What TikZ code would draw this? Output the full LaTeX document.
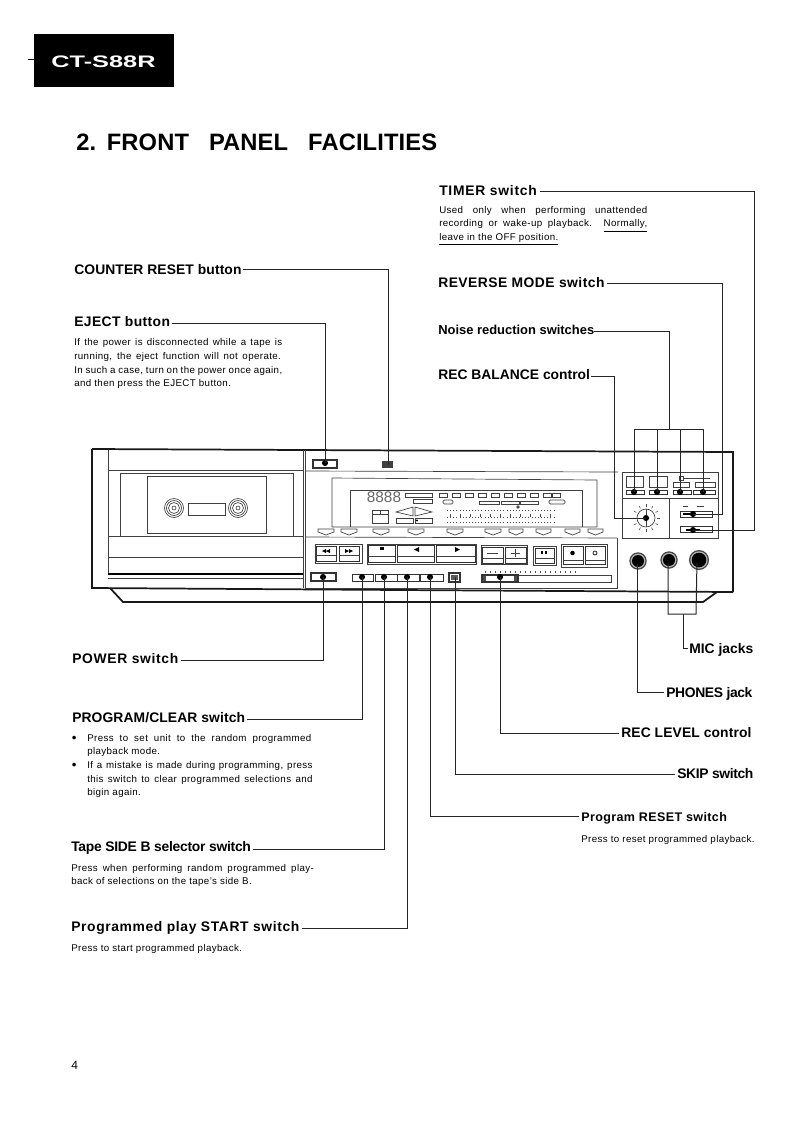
\documentclass[tikz,border=0pt]{standalone}
\usepackage{fontspec}
\setmainfont{Liberation Sans}
\newcommand{\jl}[2]{\makebox[#1pt][s]{#2}}
\newcommand{\bl}{\makebox[0pt][r]{\makebox[11.5pt][l]{\raisebox{-0.6pt}{\fontsize{10}{10}\selectfont\textbullet}}}}
\begin{document}
\begin{tikzpicture}[x=0.75pt,y=-0.75pt,
  head/.style={anchor=base west,inner sep=0pt,font=\fontsize{10.4}{12}\selectfont\bfseries\addfontfeatures{LetterSpace=#1}},
  head/.default=0,
  body/.style={anchor=north west,inner sep=0pt,font=\fontsize{7.3}{#1}\selectfont\addfontfeatures{LetterSpace=4},align=left},
  body/.default=10.2,
  lead/.style={line width=0.75pt,black!85},
  pnl/.style={line width=0.5pt,black!75},
  pnlk/.style={line width=1.3pt,black!90},
  dot/.style={circle,fill=black,inner sep=0pt,minimum size=4.6pt},
  btn/.style={draw=black!80,line width=0.5pt}]
\useasboundingbox (0,0) rectangle (793,1122);
\fill[white] (0,0) rectangle (793,1122);
% header
\fill[black] (34,34) rectangle (174,87);
\draw[line width=0.4pt] (28,59) -- (34,59);
\node[inner sep=0pt,text=white,font=\fontsize{12.5}{14}\selectfont\bfseries,anchor=base west,xscale=1.52] (model) at (51,67) {CT-S88R};
\node[inner sep=0pt,anchor=base west,font=\fontsize{17.8}{20}\selectfont\bfseries\addfontfeatures{LetterSpace=0.5}] (title) at (76,150) {2.\hspace{8pt}FRONT\hspace{15pt}PANEL\hspace{15pt}FACILITIES};
\node[inner sep=0pt,anchor=base west,font=\fontsize{9}{10}\selectfont] (pg) at (71,1069) {4};

% labels
\node[head=5.4] (timer) at (439,195) {TIMER switch};
\node[body] (timerb) at (439,206) {\jl{156}{Used only when performing unattended}\\\jl{156}{recording or wake-up playback. \underline{Normally,}}\\\underline{leave in the OFF position.}};
\node[head=3.4] (rev) at (438,287) {REVERSE MODE switch};
\node[head,font=\fontsize{9.7}{12}\selectfont\bfseries] (nr) at (438,334) {Noise reduction switches};
\node[head] (bal) at (438,379) {REC BALANCE control};
\node[head=0.7] (cnt) at (74,274) {COUNTER RESET button};
\node[head=3] (ej) at (74,326) {EJECT button};
\node[body] (ejb) at (74,338.500) {\jl{156}{If the power is disconnected while a tape is}\\\jl{155}{running, the eject function will not operate.}\\\jl{156}{In such a case, turn on the power once again,}\\and then press the EJECT button.};
\node[head=4.8] (pw) at (72,663) {POWER switch};
\node[head=0.7] (prog) at (72,722) {PROGRAM/CLEAR switch};
\node[body,anchor=north west] (progb) at (87,734) {\bl\jl{168}{Press to set unit to the random programmed}\\playback mode.\\\bl\jl{169}{If a mistake is made during programming, press}\\\jl{169}{this switch to clear programmed selections and}\\bigin again.};
\node[head=-1.9] (side) at (71,851) {Tape SIDE B selector switch};
\node[body=9.8] (sideb) at (71,864.500) {\jl{182}{Press when performing random programmed play-}\\back of selections on the tape's side B.};
\node[head=4.5] (start) at (71,931) {Programmed play START switch};
\node[body] (startb) at (71,944.500) {Press to start programmed playback.};
\node[head] (mic) at (689,653) {MIC jacks};
\node[head=-2.6] (ph) at (666,697) {PHONES jack};
\node[head=0.8] (lev) at (621,737) {REC LEVEL control};
\node[head=-2.6] (skip) at (677,778) {SKIP switch};
\node[head,font=\fontsize{9.4}{12}\selectfont\bfseries\addfontfeatures{LetterSpace=3}] (rst) at (581,821) {Program RESET switch};
\node[body] (rstb) at (581,835.500) {Press to reset programmed playback.};

% cabinet
\draw[pnlk] (92,449) -- (92,588) -- (400,590) -- (733,592);
\draw[pnlk] (92,449) -- (304,450) -- (733,452) -- (733,592);
\draw[pnl] (108,450) -- (108,575);
\draw[pnl] (108,470) -- (304,470);
\draw[pnl] (120,473) rectangle (293,536);
\fill[white] (147,476) rectangle (266,533);
\draw[pnl,line width=0.7pt] (147,476) rectangle (266,533);
\foreach \cx in {174,238}{
  \foreach \r in {9.5,7.5,5.5,2}{\draw[line width=0.45pt,black!80] (\cx,508) circle (\r);}
}
\draw[pnl] (188,503) rectangle (225,515);
\draw[pnl] (108,536) -- (304,536);
\draw[pnl] (108,557) -- (304,557);
\draw[line width=0.8pt] (108,574) -- (303,574);
\draw[pnl] (108,578) -- (303,578);
\draw[pnl] (303,450) -- (303,588);
\draw[pnl] (305,450) -- (305,589);
% base
\draw[pnlk] (110,588) -- (123,602) -- (703,602) -- (717,592);
\draw[pnl] (306,471) -- (618,472);
\draw[pnl] (306,537) -- (617,538);
\draw[pnl] (306,588) -- (617,588);
\draw[pnl] (617,538) -- (617,589);
% display
\draw[pnl] (332,478) -- (597,480) -- (597,527) -- (332,527) -- cycle;
\draw[pnl] (350,527) -- (350,490) -- (582,490) -- (582,527);
\node[inner sep=0pt,font=\fontsize{11.5}{12}\selectfont,text=black!60] (digits) at (384,497) {8888};
\draw[pnl] (405,493) rectangle (432,497);
\draw[pnl] (413,499) rectangle (432,503);
\draw[pnl] (372,510) rectangle (388,523);
\draw[pnl] (372,514) -- (388,514);
\draw[pnl] (380,510) -- (380,514);
\draw[pnl] (396,512) -- (413,507) -- (413,516) -- cycle;
\draw[pnl] (415,507) -- (415,516) -- (432,512) -- cycle;
\draw[pnl] (396,518) rectangle (413,523);
\draw[pnl] (415,518) rectangle (432,523);
\fill (417,520.500) circle (1.200);
\foreach \x in {439,452,465,478,491,504,517,530,543,552}{\draw[pnl] (\x,493) rectangle ++(8,4);}
\draw[pnl,rounded corners=1pt] (443,500) rectangle (453,504);
\draw[pnl] (479,501) rectangle (499,504);
\draw[pnl] (501,501) rectangle (519,504);
\draw[pnl] (520,501) rectangle (538,504);
\draw[pnl,rounded corners=1pt] (549,500) rectangle (565,504);
\fill[black!70] (518,507) circle (1.800);
\foreach \yy in {510,517,522.500}{\draw[line width=0.35pt,dotted,black!70] (447,\yy) -- (556,\yy);}
\foreach \x in {450,460,...,555}{\draw[line width=0.35pt,black!70] (\x,514) -- (\x,517);}
% soft keys
\foreach \x/\w in {318/16,341/16,373/16,408/16,447/16,485/16,509/14,536/15,565/15,588/15}{
  \draw[pnl] (\x,529) -- ++(\w,0) -- ++(0,3) -- ++(-\w/2,3) -- ++(-\w/2,-3) -- cycle;}
% keys
\draw[pnl] (315,544) rectangle (362,563);
\draw[btn] (316,546) rectangle (336,561);\draw[pnl] (316,555) -- (336,555);
\draw[btn] (339,546) rectangle (359,561);\draw[pnl] (339,555) -- (359,555);
\fill (322,551) -- (326,549) -- (326,551) -- (330,549) -- (330,553) -- (326,551) -- (326,553) -- cycle;
\fill (353,551) -- (349,549) -- (349,551) -- (345,549) -- (345,553) -- (349,551) -- (349,553) -- cycle;
\draw[pnl] (367,544) rectangle (476,564);
\draw[btn] (368,545) rectangle (395,562);\draw[pnl] (368,556) -- (395,556);
\fill (380,547) rectangle (384,550);
\draw[btn] (397,545) rectangle (434,562);\draw[pnl] (397,556) -- (434,556);
\fill (414,549.500) -- (419,547) -- (419,552) -- cycle;
\draw[btn] (436,545) rectangle (475,562);\draw[pnl] (436,556) -- (475,556);
\fill (455,547) -- (460,549.500) -- (455,552) -- cycle;
\draw[pnl] (481,545) rectangle (527,564);
\draw[btn] (482,547) rectangle (503,563);\draw[pnl] (482,558) -- (503,558);
\draw[btn] (505,547) rectangle (526,563);\draw[pnl] (505,558) -- (526,558);
\draw[pnl] (487,553) -- (498,553);
\draw[pnl] (511,553) -- (520,553) (515.500,549) -- (515.500,557);
\draw[pnl] (533,546) rectangle (556,565);
\draw[btn] (535,548) rectangle (554,563);\draw[pnl] (535,558) -- (554,558);
\fill (541,551) rectangle (543,554);\fill (545,551) rectangle (547,554);
\draw[pnl] (561,544) rectangle (607,567);
\draw[btn] (563,546) rectangle (583,564);\draw[pnl] (563,560) -- (583,560);
\draw[btn] (585,546) rectangle (605,564);\draw[pnl] (585,560) -- (605,560);
\fill (572.500,553) circle (2.300);
\draw[line width=0.5pt] (595,553) circle (2);
% lower switches
\draw[btn,line width=0.9pt] (311,573) rectangle (336,581);
\foreach \x/\w in {352/21,375/22,397/22,420/23}{\draw[btn,line width=0.7pt] (\x,574) rectangle ++(\w,7);}
\draw[btn,line width=1pt] (449,573) rectangle (460,582);
\fill[black!65] (451,575) rectangle (458,580);
\draw[pnl] (482,575) rectangle (611,582);
\draw[btn,line width=0.9pt] (482,575) rectangle (518,582);
\fill[black!70] (483,576) rectangle (486,581);\fill[black!70] (514,576) rectangle (517,581);
\foreach \x in {485,490,...,577}{\draw[line width=0.3pt,black!70] (\x,571) -- (\x,573);}
% top left switches
\draw[btn,line width=0.9pt] (313,460) rectangle (337,468);
\fill[black!75] (382,461) rectangle (393,468);
% right panel
\draw[pnl] (622,472) rectangle (718,538);
\draw[pnl] (622,498) -- (718,498);
\draw[pnl] (669,498) -- (669,538);
\draw[pnl] (626,476) rectangle (643,487);
\draw[pnl] (649,476) rectangle (667,487);
\draw[pnl] (673,482) rectangle (689,487);
\draw[pnl] (695,482) rectangle (715,487);
\draw[pnl] (679,476) rectangle (683,480);\draw[pnl] (683,478) -- (710,478);
\foreach \x/\w in {626/18,649/18,673/18,693/22}{\draw[btn,line width=0.7pt] (\x,490) rectangle ++(\w,4);}
\draw[pnl] (646,518) circle (9);
\draw[pnl] (646,509) -- (646,527);
\foreach \a in {0,30,...,330}{\draw[line width=0.4pt,black!70] (646,518) ++(\a:11) -- ++(\a:3);}
\draw[btn] (680,511) rectangle (712,517);
\draw[btn] (680,526) rectangle (712,532);
\draw[pnl] (683,506) -- (688,506) (697,506) -- (704,506);
\draw[line width=1pt] (683,514) -- (696,514);
\draw[line width=1pt] (686,530) -- (700,530);
% jacks
\foreach \cx/\cy/\r in {638/561/8.7,669/560/8.7,699/560/10}{
  \fill[black!75] (\cx,\cy) circle (\r);
  \fill[black!30] (\cx,\cy) circle (\r-1.300);
  \fill[black] (\cx,\cy) circle (\r-2.700);
}
% connector targets
\foreach \n/\x/\y in {eT/325/463,cT/388/465,pwT/323/577,pcT/362/577,sbT/384/577,stT/407/577,rsT/430/577,skT/455/577,lvT/500/577}{
  \coordinate (\n) at (\x,\y);}
\foreach \n in {eT,pwT,pcT,sbT,stT,rsT,lvT}{\node[dot] (d\n) at (\n) {};}
\node[dot] (n1) at (634,492) {};
\node[dot] (n2) at (657,492) {};
\node[dot] (n3) at (680,492) {};
\node[dot] (n4) at (703,492) {};
\node[dot] (rb) at (646,518) {};
\node[dot] (rm) at (693,514) {};
\node[dot] (tm) at (693,530) {};
\node[dot,minimum size=3.500pt] (ph1) at (637,561) {};
\node[dot,minimum size=3.500pt] (m1) at (668,560) {};
\node[dot,minimum size=3.500pt] (m2) at (697,560) {};
% leaders
\draw[lead] (timer.base east) ++(3,-4) -| (754,530) -- (tm.center);
\draw[lead] (rev.base east) ++(2,-4) -| (722,514) -- (rm.center);
\draw[lead] (nr.base east) ++(0,-3) -| (669,429);
\draw[lead] (n1.center) |- (703,429) -- (n4.center);
\draw[lead] (n2.center) -- (657,429);
\draw[lead] (n3.center) -- (680,429);
\draw[lead] (bal.base east) ++(1,-3) -| (614,518) -- (rb.center);
\draw[lead] (cnt.base east) ++(1,-5) -| (cT);
\draw[lead] (ej.base east) ++(2,-3) -| (eT);
\draw[lead] (pw.base east) ++(2,-3) -| (pwT);
\draw[lead] (prog.base east) ++(2,-3) -| (pcT);
\draw[lead] (side.base east) ++(2,-2) -| (sbT);
\draw[lead] (start.base east) ++(2,-3) -| (stT);
\draw[lead] (rst.base west) ++(-2,-5) -| (rsT);
\draw[lead] (skip.base west) ++(-2,-4) -| (skT);
\draw[lead] (lev.base west) ++(-2,-4) -| (lvT);
\draw[lead] (ph.base west) ++(-2,-5) -| (ph1);
\draw[lead] (m1) -- (668,614) -- (696,614) -- (m2);
\draw[lead] (mic.base west) ++(-1,-5) -| (683,614);
\end{tikzpicture}
\end{document}
